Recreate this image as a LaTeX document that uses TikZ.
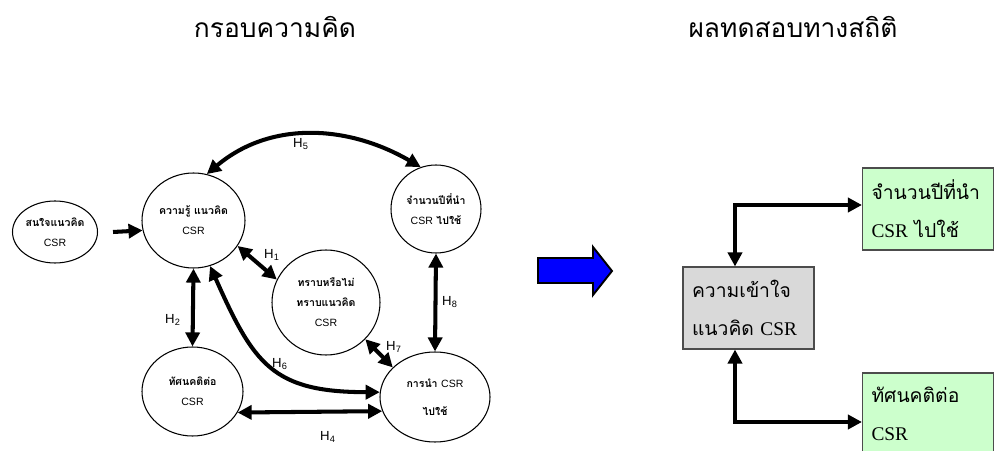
\documentclass[tikz,border=0pt]{standalone}
\usepackage{fontspec}
\setmainfont{Liberation Sans}
\newfontfamily\thai[Script=Thai]{Loma}
\newfontfamily\latin{Liberation Sans}
\newfontfamily\serif{Liberation Serif}
\usetikzlibrary{shapes,arrows.meta}
\tikzstyle{concept} = [ellipse, draw, line width=0.6pt, inner sep=0pt, align=center, font=\thai\bfseries\fontsize{6}{11.4}\selectfont]
\tikzstyle{result} = [rectangle, draw=black!70, line width=0.6pt, text width=2.26cm, inner xsep=0.18cm, minimum height=1.64cm, align=left, font=\thai\fontsize{11}{21.6}\selectfont]
\tikzstyle{hyp} = [font=\fontsize{7.5}{9}\selectfont, inner sep=0pt]
\tikzstyle{arrow} = [draw, line width=2.3pt, -{Triangle[length=8pt, width=8pt]}]
\tikzstyle{dblarrow} = [draw, line width=2.3pt, {Triangle[length=8pt, width=8pt]}-{Triangle[length=8pt, width=8pt]}]
\definecolor{boxgray}{HTML}{D9D9D9}
\definecolor{boxgreen}{HTML}{CCFFCC}

\begin{document}
\begin{tikzpicture}
\useasboundingbox (0,0) rectangle (19.88,9);

%% headings
\node[font=\thai\fontsize{15}{18}\selectfont] at (5.50, 8.46) (framework) {กรอบความคิด};
\node[font=\thai\fontsize{15}{18}\selectfont] at (15.86, 8.46) (stats) {ผลทดสอบทางสถิติ};

%% conceptual framework
\node[concept, minimum width=1.70cm, minimum height=1.24cm] at (1.10, 4.36) (interest) {สนใจแนวคิด\\{\latin\mdseries CSR}};
\node[concept, minimum width=2.06cm, minimum height=1.90cm] at (3.87, 4.59) (knowledge) {ความรู้ แนวคิด\\{\latin\mdseries CSR}};
\node[concept, minimum width=1.80cm, minimum height=1.76cm] at (8.72, 4.82) (years) {จำนวนปีที่นำ\\{\latin\mdseries CSR} ไปใช้};
\node[concept, minimum width=2.16cm, minimum height=2.10cm] at (6.52, 2.95) (aware) {ทราบหรือไม่\\ทราบแนวคิด\\{\latin\mdseries CSR}};
\node[concept, minimum width=2.20cm, minimum height=1.80cm, font=\thai\bfseries\fontsize{6}{16}\selectfont] at (8.70, 1.06) (apply) {การนำ {\latin\mdseries CSR}\\ไปใช้};
\node[concept, minimum width=2.02cm, minimum height=1.78cm] at (3.85, 1.17) (attitude) {ทัศนคติต่อ\\{\latin\mdseries CSR}};

\path[arrow] ([xshift=0.3cm]interest.east) -- (knowledge.191);
\path[dblarrow, out=40, in=150] (knowledge.74) to (years.110);
\path[dblarrow] (knowledge.-30) -- (aware.155);
\path[dblarrow] (knowledge.south) -- (attitude.north);
\path[dblarrow, out=-66, in=180, looseness=1.3] (knowledge.-70) to (apply.175);
\path[dblarrow] (attitude.-25) -- (apply.195);
\path[dblarrow] (aware.-43) -- (apply.145);
\path[dblarrow] (years.south) -- (apply.north);

% hypothesis labels
\node[hyp] at (6.02, 6.12) (h5) {H\textsubscript{5}};
\node[hyp] at (5.44, 3.90) (h1) {H\textsubscript{1}};
\node[hyp] at (3.46, 2.60) (h2) {H\textsubscript{2}};
\node[hyp] at (5.60, 1.72) (h6) {H\textsubscript{6}};
\node[hyp] at (6.56, 0.26) (h4) {H\textsubscript{4}};
\node[hyp] at (7.88, 2.06) (h7) {H\textsubscript{7}};
\node[hyp] at (9.00, 2.96) (h8) {H\textsubscript{8}};

% big blue arrow
\draw[fill=blue, line width=1.1pt, line join=miter] (10.76,3.84) -- (11.86,3.84) -- (11.86,4.06) -- (12.24,3.58) -- (11.86,3.10) -- (11.86,3.34) -- (10.76,3.34) -- cycle;

%% test results
\node[result, fill=boxgray] at (14.97, 2.84) (understand) {ความเข้าใจ\\แนวคิด {\serif CSR}};
\node[result, fill=boxgreen] at (18.56, 4.82) (resyears) {จำนวนปีที่นำ\\{\serif CSR} ไปใช้};
\node[result, fill=boxgreen] at (18.56, 0.72) (resattitude) {ทัศนคติต่อ\\{\serif CSR}};

\path[dblarrow] ([xshift=-0.27cm]understand.north) |- ([yshift=0.08cm]resyears.west);
\path[dblarrow] ([xshift=-0.27cm]understand.south) |- ([yshift=-0.16cm]resattitude.west);
\end{tikzpicture}
\end{document}
